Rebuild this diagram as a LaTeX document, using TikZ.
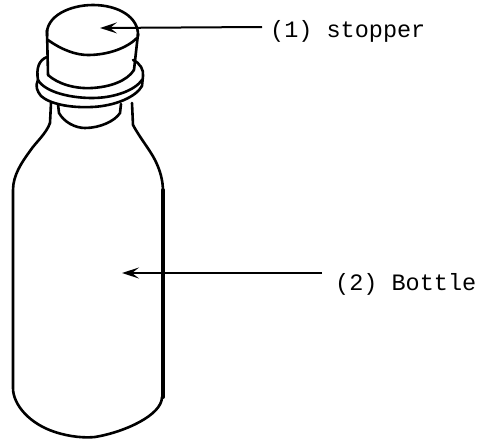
\documentclass[tikz,border=0pt]{standalone}
\usepackage{fontspec}
\setmonofont{Liberation Mono}
\usetikzlibrary{arrows.meta}
\begin{document}
\begin{tikzpicture}[x=1pt,y=-1pt,
  outline/.style={line width=2.6pt,line cap=round,line join=round},
  heavy/.style={line width=4pt,line cap=round},
  pointer/.style={line width=2pt,-{Stealth[length=17pt,width=11pt,inset=7pt]}},
  label/.style={font=\fontsize{23.5}{28}\selectfont\ttfamily,inner sep=0pt,anchor=base west}]
\useasboundingbox (0,0) rectangle (479,442);

% stopper: top face
\draw[outline] (47,36) .. controls (45,16) and (70,5) .. (93,5)
  .. controls (118,5) and (139,17) .. (138,36);
\draw[outline] (48,40) .. controls (62,50) and (76,55) .. (88,55)
  .. controls (108,55) and (127,48) .. (137,38);
% stopper: sides and lower rim
\draw[outline] (47,30) -- (48,75);
\draw[outline] (138,34) -- (134,70);
\draw[outline] (48,75) .. controls (58,84) and (75,89) .. (92,88)
  .. controls (110,87) and (127,81) .. (134,70);

% collar around the mouth
\draw[outline] (47,57) .. controls (39,60) and (36,68) .. (38,80);
\draw[outline] (38,80) .. controls (45,92) and (70,98) .. (92,98)
  .. controls (115,98) and (135,90) .. (142,80);
\draw[outline] (38,80) .. controls (35,86) and (37,91) .. (41,96)
  .. controls (50,104) and (70,108) .. (92,107)
  .. controls (115,106) and (136,97) .. (142,86);
\draw[outline] (133,60) .. controls (140,63) and (144,70) .. (143,76) -- (142,86);

% cork end visible in the neck
\draw[outline] (58,104) -- (59,113) .. controls (64,122) and (75,128) .. (85,128)
  .. controls (100,128) and (115,121) .. (120,113) -- (121,104);

% bottle body
\draw[outline] (51,103) -- (50,123) .. controls (46,134) and (36,142) .. (30,151)
  .. controls (22,162) and (13,175) .. (13,190) -- (13,388)
  .. controls (13,405) and (30,424) .. (55,432)
  .. controls (70,437) and (85,438) .. (95,437)
  .. controls (125,432) and (162,415) .. (162,397);
\draw[outline] (132,103) -- (133,125) .. controls (140,138) and (150,150) .. (155,160)
  .. controls (160,170) and (163,180) .. (163,192);
\draw[heavy] (163,190) -- (163,397);

% labels and pointers
\node[label] (stopper) at (270,37) {(1) stopper};
\node[label] (bottle) at (335,290) {(2) Bottle};
\coordinate (stopperend) at (262,27);
\coordinate (stoppertip) at (100,28);
\coordinate (bottleend) at (322,273);
\coordinate (bottletip) at (122,273);
\draw[pointer] (stopperend) -- (stoppertip);
\draw[pointer] (bottleend) -- (bottletip);
\end{tikzpicture}
\end{document}
